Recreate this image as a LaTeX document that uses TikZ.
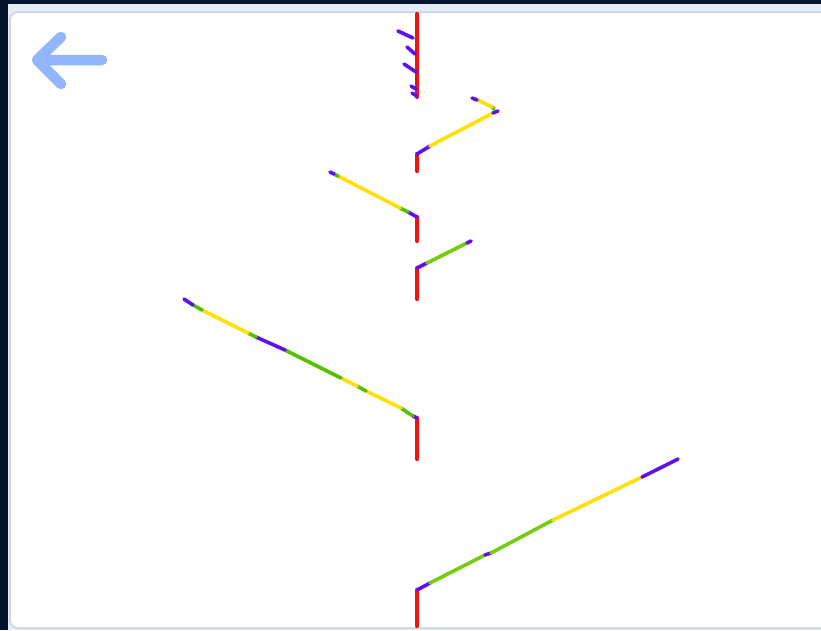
\documentclass[tikz,border=0pt]{standalone}
\definecolor{navy}{HTML}{06142B}
\definecolor{band}{HTML}{E4ECF6}
\definecolor{panelborder}{HTML}{C9D2DE}
\definecolor{arrowblue}{HTML}{86AEFF}
\definecolor{tred}{HTML}{F51010}
\definecolor{tpurple}{HTML}{6010F0}
\definecolor{tyellow}{HTML}{FFE000}
\definecolor{tgreen}{HTML}{55C000}
\definecolor{tlime}{HTML}{77CC10}
\tikzset{
  trunk/.style={draw=tred, line width=4.3pt, line cap=round},
  twig/.style={line width=3.6pt, line cap=round},
  pu/.style={twig, draw=tpurple},
  ye/.style={twig, draw=tyellow},
  gr/.style={twig, draw=tgreen},
  li/.style={twig, draw=tlime},
}
\begin{document}
\begin{tikzpicture}[x=1pt,y=-1pt]
\useasboundingbox (0,0) rectangle (821,630);
\fill[navy] (0,0) rectangle (821,630);
\fill[band] (8,4) rectangle (821,630);
\draw[panelborder, fill=white, line width=1.5pt, rounded corners=8pt] (10,12) rectangle (830,628);
% back arrow
\draw[arrowblue, line width=10.5pt, line cap=round, line join=round, opacity=0.9]
  (102,60) -- (37,60) (61,37) -- (37,60) -- (61,84);
% top cluster
\draw[trunk] (417,14) -- (417,97);
\draw[pu] (398,31) -- (413,38);
\draw[pu] (407,47) -- (415,54);
\draw[pu] (404,64) -- (416,72);
\draw[pu] (411,86) -- (416,89);
\draw[pu] (412,93) -- (417,96);
% branch 2
\draw[trunk] (417,154) -- (417,171);
\draw[pu] (417,154) -- (430,146);
\draw[ye] (430,146) -- (493,113);
\draw[pu] (493,113) -- (498,111);
\draw[gr] (492,107) -- (494,109);
\draw[ye] (476,99) -- (492,107);
\draw[pu] (472,98) -- (477,100);
% branch 3
\draw[trunk] (417,217) -- (417,241);
\draw[pu] (417,217) -- (408,212);
\draw[gr] (408,212) -- (400,208);
\draw[ye] (400,208) -- (338,176);
\draw[gr] (338,176) -- (334,174);
\draw[pu] (334,174) -- (330,172);
% branch green short
\draw[trunk] (417,268) -- (417,299);
\draw[pu] (417,268) -- (427,263);
\draw[li] (427,263) -- (467,243);
\draw[pu] (467,243) -- (471,241);
% branch 4
\draw[trunk] (417,418) -- (417,459);
\draw[pu] (417,418) -- (413,416);
\draw[gr] (413,416) -- (401,408);
\draw[ye] (401,408) -- (366,391);
\draw[gr] (366,391) -- (357,386);
\draw[ye] (357,386) -- (341,378);
\draw[gr] (341,378) -- (285,350);
\draw[pu] (285,350) -- (256,337);
\draw[gr] (256,337) -- (248,333);
\draw[ye] (248,333) -- (202,310);
\draw[gr] (202,310) -- (193,305);
\draw[pu] (193,305) -- (184,299);
% branch 5
\draw[trunk] (417,590) -- (417,626);
\draw[pu] (417,590) -- (430,583);
\draw[li] (430,583) -- (485,555);
\draw[pu] (485,555) -- (491,553);
\draw[li] (491,553) -- (553,520);
\draw[ye] (553,520) -- (642,477);
\draw[pu] (642,477) -- (678,459);
\end{tikzpicture}
\end{document}
